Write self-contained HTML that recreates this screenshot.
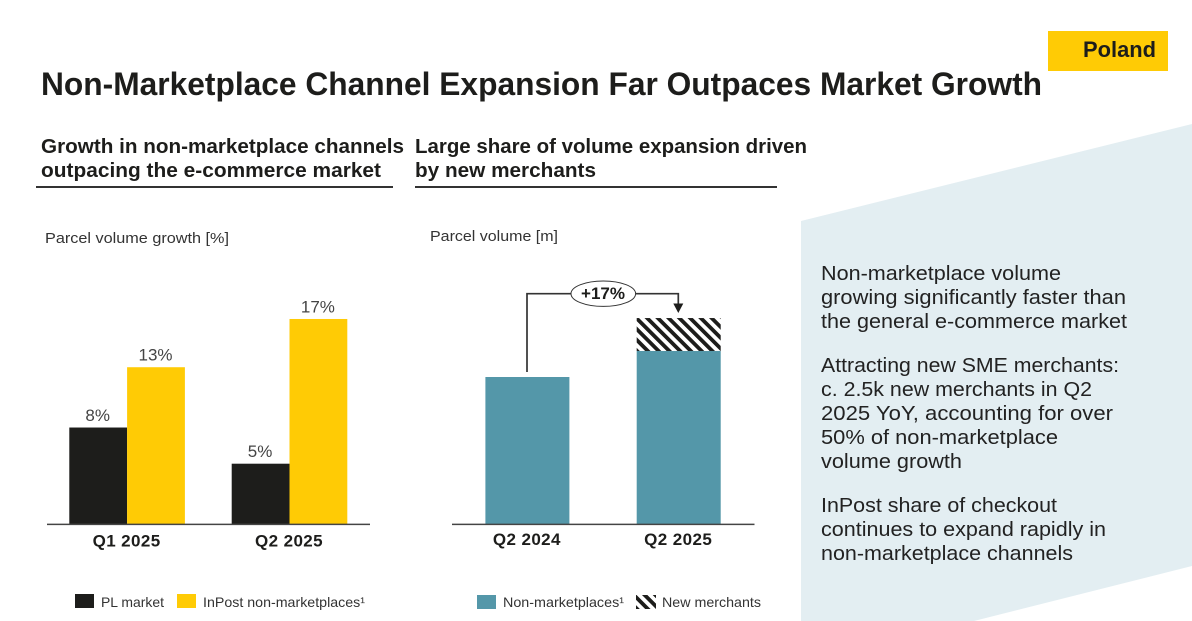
<!DOCTYPE html>
<html lang="en">
<head>
<meta charset="utf-8">
<title>Non-Marketplace Channel Expansion Far Outpaces Market Growth</title>
<style>
html,body{margin:0;padding:0;background:#fff;width:1192px;height:621px;overflow:hidden}
svg{display:block}
text{font-family:"Liberation Sans",sans-serif;fill:#1d1d1b}
.title{font-size:32px;font-weight:700}
.sub{font-size:20px;font-weight:700}
.axis-label{font-size:15px;fill:#333}
.body{font-size:20px;fill:#222}
.leg{font-size:14px;fill:#333}
.val{font-size:17px;fill:#444;text-anchor:middle}
.cat{font-size:17px;font-weight:700;text-anchor:middle;letter-spacing:.4px}
.callout{font-size:17px;font-weight:700;text-anchor:middle}
</style>
</head>
<body>
<svg id="slide" xmlns="http://www.w3.org/2000/svg" width="1192" height="621" viewBox="0 0 1192 621">
<defs>
<pattern id="hatch" width="7.6" height="7.6" patternUnits="userSpaceOnUse" patternTransform="rotate(45) translate(0 1)">
<rect width="7.6" height="7.6" fill="#fff"/>
<rect width="7.6" height="3.8" fill="#1d1d1b"/>
</pattern>
</defs>
<polygon points="801,221 1192,124 1192,566 974,621 801,621" fill="#e3eef2"/>
<rect x="1048" y="31" width="120" height="40" fill="#ffcb05"/>
<text x="1083" y="57" font-size="22" font-weight="700" textLength="73" lengthAdjust="spacingAndGlyphs">Poland</text>
<text class="title" x="41" y="95" textLength="1001" lengthAdjust="spacingAndGlyphs">Non-Marketplace Channel Expansion Far Outpaces Market Growth</text>

<g>
<text class="sub" x="41" y="153" textLength="363" lengthAdjust="spacingAndGlyphs">Growth in non-marketplace channels</text>
<text class="sub" x="41" y="177" textLength="340" lengthAdjust="spacingAndGlyphs">outpacing the e-commerce market</text>
<rect x="36" y="186" width="357" height="2" fill="#333"/>
</g>
<g>
<text class="sub" x="415" y="153" textLength="392" lengthAdjust="spacingAndGlyphs">Large share of volume expansion driven</text>
<text class="sub" x="415" y="177" textLength="181" lengthAdjust="spacingAndGlyphs">by new merchants</text>
<rect x="415" y="186" width="362" height="2" fill="#333"/>
</g>

<text class="axis-label" x="45" y="243" textLength="184" lengthAdjust="spacingAndGlyphs">Parcel volume growth [%]</text>
<text class="axis-label" x="430" y="241" textLength="128" lengthAdjust="spacingAndGlyphs">Parcel volume [m]</text>

<g id="left-chart"></g>
<g id="right-chart"></g>

<line x1="47" x2="370" y1="524.4" y2="524.4" stroke="#444" stroke-width="1.5"/>
<line x1="452" x2="754.5" y1="524.4" y2="524.4" stroke="#444" stroke-width="1.5"/>

<g>
<rect x="75" y="594" width="19" height="14" fill="#1d1d1b"/>
<text class="leg" x="101" y="607" textLength="63" lengthAdjust="spacingAndGlyphs">PL market</text>
<rect x="177" y="594" width="19" height="14" fill="#ffcb05"/>
<text class="leg" x="203" y="607" textLength="162" lengthAdjust="spacingAndGlyphs">InPost non-marketplaces¹</text>
</g>
<g>
<rect x="477" y="595" width="19" height="14" fill="#5497a9"/>
<text class="leg" x="503" y="607" textLength="121" lengthAdjust="spacingAndGlyphs">Non-marketplaces¹</text>
<rect x="636" y="595" width="20" height="14" fill="url(#hatch)"/>
<text class="leg" x="662" y="607" textLength="99" lengthAdjust="spacingAndGlyphs">New merchants</text>
</g>

<g>
<text class="body" x="821" y="280" textLength="240" lengthAdjust="spacingAndGlyphs">Non-marketplace volume</text>
<text class="body" x="821" y="304" textLength="305" lengthAdjust="spacingAndGlyphs">growing significantly faster than</text>
<text class="body" x="821" y="328" textLength="306" lengthAdjust="spacingAndGlyphs">the general e-commerce market</text>
<text class="body" x="821" y="372" textLength="298" lengthAdjust="spacingAndGlyphs">Attracting new SME merchants:</text>
<text class="body" x="821" y="396" textLength="271" lengthAdjust="spacingAndGlyphs">c. 2.5k new merchants in Q2</text>
<text class="body" x="821" y="420" textLength="292" lengthAdjust="spacingAndGlyphs">2025 YoY, accounting for over</text>
<text class="body" x="821" y="444" textLength="237" lengthAdjust="spacingAndGlyphs">50% of non-marketplace</text>
<text class="body" x="821" y="468" textLength="141" lengthAdjust="spacingAndGlyphs">volume growth</text>
<text class="body" x="821" y="512" textLength="236" lengthAdjust="spacingAndGlyphs">InPost share of checkout</text>
<text class="body" x="821" y="536" textLength="285" lengthAdjust="spacingAndGlyphs">continues to expand rapidly in</text>
<text class="body" x="821" y="560" textLength="252" lengthAdjust="spacingAndGlyphs">non-marketplace channels</text>
</g>
</svg>
<script>
// Left chart data
const growthCategories = ['Q1 2025', 'Q2 2025'];
const plMarketGrowth = [8, 5];
const inpostGrowth = [13, 17];

// Right chart data (relative volume, Q2 2024 = 100; the source prints no values)
const volumeCategories = ['Q2 2024', 'Q2 2025'];
const nonMarketplaceVolume = [100, 117.7];
const newMerchantVolume = [0, 22.4];
const growthCallout = '+17%';

const NS = 'http://www.w3.org/2000/svg';
const BASE_Y = 524;
const growthY = v => BASE_Y - v * 12.06;
const volumeY = v => BASE_Y - v * 1.47;
const growthGroupX = i => 69.3 + i * 162.4;
const GROWTH_BAR_W = 57.8;
const volumeBarX = i => 485.4 + i * 151.3;
const VOLUME_BAR_W = 84;

function make(parent, tag, attrs, content) {
  const el = document.createElementNS(NS, tag);
  for (const k in attrs) el.setAttribute(k, attrs[k]);
  if (content !== undefined) el.textContent = content;
  parent.appendChild(el);
  return el;
}

const left = document.getElementById('left-chart');
growthCategories.forEach((cat, i) => {
  const gx = growthGroupX(i);

  const plBar = make(left, 'rect', {x: gx, y: growthY(plMarketGrowth[i]), width: GROWTH_BAR_W, height: BASE_Y - growthY(plMarketGrowth[i]), fill: '#1d1d1b'});
  
  

  const inBar = make(left, 'rect', {x: gx + GROWTH_BAR_W, y: growthY(inpostGrowth[i]), width: GROWTH_BAR_W, height: BASE_Y - growthY(inpostGrowth[i]), fill: '#ffcb05'});
  
  

  const plVal = make(left, 'text', {class: 'val', x: gx + GROWTH_BAR_W / 2 - 0.5, y: growthY(plMarketGrowth[i]) - 6.5}, plMarketGrowth[i] + '%');
  
  

  const inVal = make(left, 'text', {class: 'val', x: gx + GROWTH_BAR_W * 1.5 - 0.5, y: growthY(inpostGrowth[i]) - 6.5}, inpostGrowth[i] + '%');
  
  

  const catLabel = make(left, 'text', {class: 'cat', x: gx + GROWTH_BAR_W - 0.5, y: 546.5}, cat);
  
  
});

const right = document.getElementById('right-chart');
volumeCategories.forEach((cat, i) => {
  const x = volumeBarX(i);
  const top = volumeY(nonMarketplaceVolume[i]);

  const bar = make(right, 'rect', {x: x, y: top, width: VOLUME_BAR_W, height: BASE_Y - top, fill: '#5497a9'});
  
  

  if (newMerchantVolume[i] > 0) {
    const hTop = volumeY(nonMarketplaceVolume[i] + newMerchantVolume[i]);
    const hatchBar = make(right, 'rect', {x: x, y: hTop, width: VOLUME_BAR_W, height: top - hTop, fill: 'url(#hatch)'});
    
    
  }

  const catLabel = make(right, 'text', {class: 'cat', x: x + VOLUME_BAR_W / 2 - 0.5, y: 545}, cat);
  
  
});

// Growth bracket anchored on the two bar stacks
const startX = volumeBarX(0) + VOLUME_BAR_W / 2 - 0.4;
const endX = volumeBarX(1) + VOLUME_BAR_W / 2 - 0.4;
const startY = volumeY(nonMarketplaceVolume[0]) - 5;
const endTotalY = volumeY(nonMarketplaceVolume[1] + newMerchantVolume[1]);
const bracketY = 293.7;

const bracket = make(right, 'path', {d: 'M' + startX + ' ' + startY + 'V' + bracketY + 'H' + endX + 'V' + (endTotalY - 14), fill: 'none', stroke: '#333', 'stroke-width': 1.7});



const arrow = make(right, 'polygon', {points: (endX - 5) + ',' + (endTotalY - 14.5) + ' ' + (endX + 5) + ',' + (endTotalY - 14.5) + ' ' + endX + ',' + (endTotalY - 5), fill: '#1d1d1b'});



const bubble = make(right, 'ellipse', {cx: 603.3, cy: bracketY, rx: 32.3, ry: 12.7, fill: '#fff', stroke: '#333', 'stroke-width': 1});



const callout = make(right, 'text', {class: 'callout', x: 603, y: 299}, growthCallout);


</script>
</body>
</html>
